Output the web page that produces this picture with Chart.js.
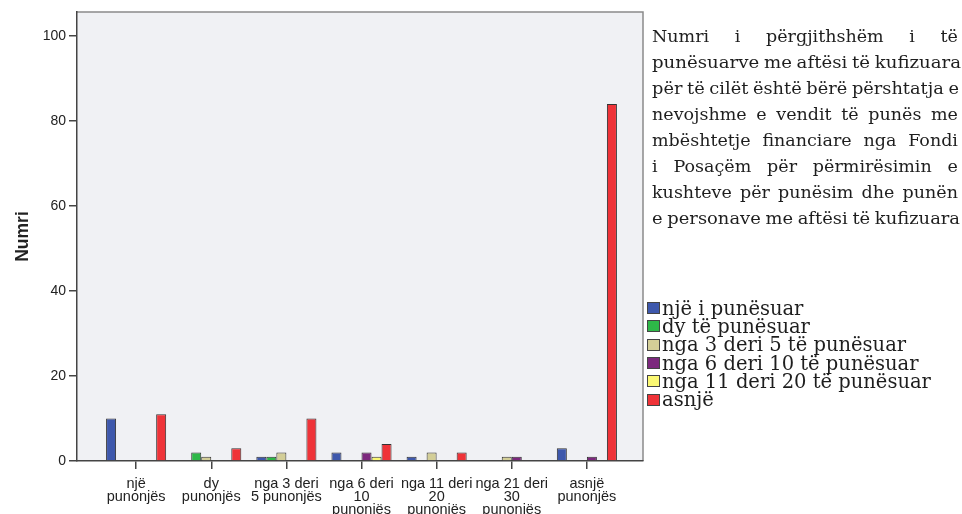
<!DOCTYPE html>
<html><head><meta charset="utf-8">
<script src="https://cdn.jsdelivr.net/npm/chart.js@4"></script>
<style>
html,body{margin:0;padding:0;background:#fff;}
#wrap{position:relative;width:962px;height:514px;overflow:hidden;}
#c{position:absolute;left:0;top:0;}
#note{position:absolute;left:652px;top:23px;width:306px;font-family:'DejaVu Serif',serif;font-size:17.5px;line-height:26px;color:#1e1e1e;}
.ln{display:flex;justify-content:space-between;white-space:nowrap;height:26px;}
.fit{white-space:nowrap;transform-origin:0 0;height:26px;}
#measure{position:absolute;visibility:hidden;white-space:nowrap;font-family:'DejaVu Serif',serif;font-size:17.5px;}
#legend{position:absolute;left:647px;top:299px;font-family:'DejaVu Serif',serif;font-size:19.5px;color:#1e1e1e;}
.li{display:flex;align-items:center;height:18.3px;white-space:nowrap;}
.sw{width:13px;height:12px;border:1px solid #444;box-sizing:border-box;margin-right:2px;flex:none;}
</style></head>
<body><div id="wrap"><canvas id="c" width="962" height="514"></canvas><div id="note"></div><div id="legend"></div><span id="measure"></span></div>
<script>
const categories = [["një","punonjës"],["dy","punonjës"],["nga 3 deri","5 punonjës"],["nga 6 deri","10","punonjës"],["nga 11 deri","20","punonjës"],["nga 21 deri","30","punonjës"],["asnjë","punonjës"]];
const seriesNames = ["një i punësuar","dy të punësuar","nga 3 deri 5 të punësuar","nga 6 deri 10 të punësuar","nga 11 deri 20 të punësuar","asnjë"];
const seriesColors = ["#3e58ac","#2eb848","#d3ce97","#7c287d","#fbf873","#ef3338"];
const njeIPunesuar = [10,0,1,2,1,0,3];
const dyTePunesuar = [0,2,1,0,0,0,0];
const nga3Deri5 = [0,1,2,0,2,1,0];
const nga6Deri10 = [0,0,0,2,0,1,1];
const nga11Deri20 = [0,0,0,1,0,0,0];
const asnje = [11,3,10,4,2,0,84];
const yTicks = [0,20,40,60,80,100];
const yAxisTitle = "Numri";
const noteLines = ["Numri i përgjithshëm i të","punësuarve me aftësi të kufizuara","për të cilët është bërë përshtatja e","nevojshme e vendit të punës me","mbështetje financiare nga Fondi","i Posaçëm për përmirësimin e","kushteve për punësim dhe punën","e personave me aftësi të kufizuara"];

const seriesValues = [njeIPunesuar,dyTePunesuar,nga3Deri5,nga6Deri10,nga11Deri20,asnje];

// note text, each line justified to the full block width
const NOTE_W = 306;
const note = document.getElementById('note');
const meas = document.getElementById('measure');
noteLines.forEach(l=>{
  meas.textContent = l;
  const w = meas.getBoundingClientRect().width;
  const d=document.createElement('div');
  if (w > NOTE_W - 4) {
    d.className='fit';
    d.textContent = l;
    d.style.width = w+'px';
    d.style.wordSpacing = '-1px';
    d.style.transform = 'scaleX(' + (NOTE_W/(w-7)) + ')';
  } else {
    d.className='ln';
    l.split(' ').forEach(wd=>{const s=document.createElement('span');s.textContent=wd;d.appendChild(s);});
  }
  note.appendChild(d);
});
// legend
const leg = document.getElementById('legend');
seriesNames.forEach((n,i)=>{const r=document.createElement('div');r.className='li';const b=document.createElement('span');b.className='sw';b.style.background=seriesColors[i];const t=document.createElement('span');t.textContent=n;r.appendChild(b);r.appendChild(t);leg.appendChild(r);});

const framePlugin = {
  id:'frame',
  beforeDraw(chart){
    const {ctx, chartArea:a} = chart;
    ctx.save();
    ctx.fillStyle='#f0f1f4';
    ctx.fillRect(a.left,a.top,a.right-a.left,a.bottom-a.top);
    ctx.strokeStyle='#8a8a8a';
    ctx.lineWidth=1.5;
    ctx.beginPath();
    ctx.moveTo(a.left,a.top);ctx.lineTo(a.right,a.top);ctx.lineTo(a.right,a.bottom);
    ctx.stroke();
    ctx.restore();
  }
};

new Chart(document.getElementById('c'),{
  type:'bar',
  data:{
    datasets: seriesValues.map((vals,i)=>({
      label: seriesNames[i],
      data: vals.map((v,j)=>({x:j,y:v})),
      backgroundColor: seriesColors[i],
      borderColor:'#333',
      borderWidth: ctx => (ctx.raw && ctx.raw.y) ? 1 : 0,
      categoryPercentage:0.8,
      barPercentage:1.0
    }))
  },
  options:{
    responsive:false,
    animation:false,
    events:[],
    layout:{padding:{top:12,right:319,left:0,bottom:0}},
    plugins:{legend:{display:false},tooltip:{enabled:false}},
    scales:{
      x:{
        type:'linear',
        min:-0.787, max:6.747,
        offset:false,
        afterBuildTicks(scale){ scale.ticks = categories.map((c,i)=>({value:i})); },
        afterFit(scale){ scale.height = 53; },
        grid:{offset:false,drawOnChartArea:false,drawTicks:true,tickLength:8,color:'#444',lineWidth:1.5},
        border:{display:true,color:'#444',width:1.5},
        ticks:{autoSkip:false,maxRotation:0,minRotation:0,padding:8,color:'#222',
          font:{family:'"Liberation Sans", Arial, sans-serif',size:14.5,lineHeight:0.9},
          callback:(v)=>categories[v]}
      },
      y:{
        type:'linear',
        min:0, max:105.65,
        afterBuildTicks(scale){ scale.ticks = yTicks.map(v=>({value:v})); },
        afterFit(scale){ scale.width = 77; },
        grid:{drawOnChartArea:false,drawTicks:true,tickLength:8,color:'#444',lineWidth:1.5},
        border:{display:true,color:'#444',width:1.5},
        ticks:{padding:3,color:'#222',font:{family:'"Liberation Sans", Arial, sans-serif',size:14}},
        title:{display:true,text:yAxisTitle,color:'#222',padding:{top:13,bottom:0},
          font:{family:'"Liberation Sans", Arial, sans-serif',size:17.5,weight:'bold'}}
      }
    }
  },
  plugins:[framePlugin]
});
</script></body></html>
